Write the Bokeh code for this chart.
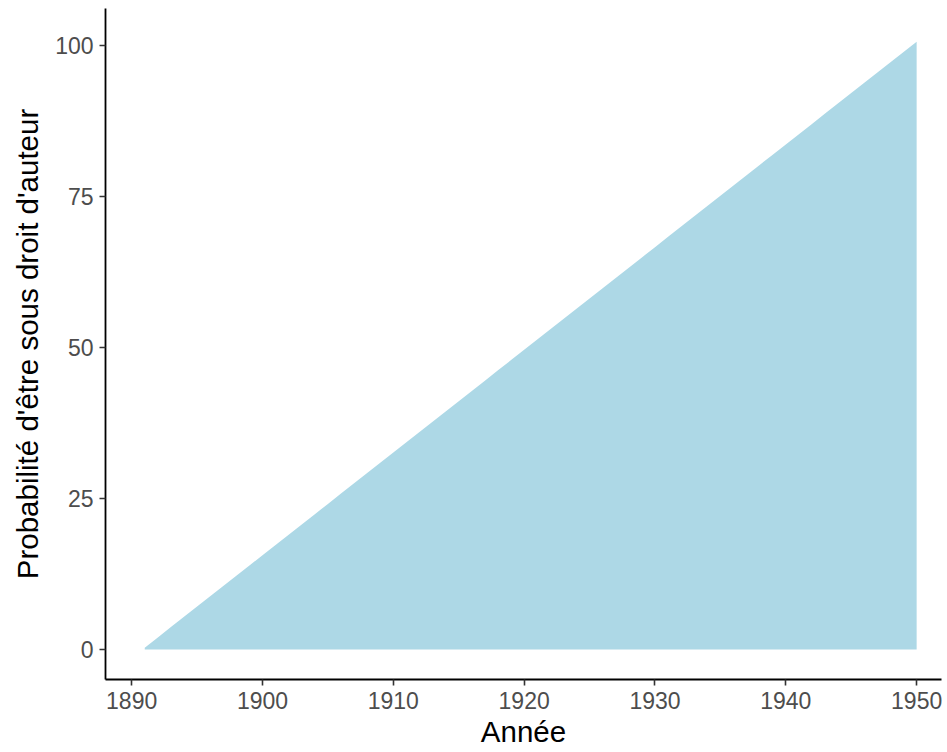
from bokeh.plotting import figure
from bokeh.models import Range1d, FixedTicker
from bokeh.embed import file_html
from bokeh.resources import INLINE

years = list(range(1891, 1951))
probabilite = [0.3, 2.0, 3.7, 5.4, 7.1, 8.8, 10.5, 12.2, 13.9, 15.6,
               17.3, 19.0, 20.7, 22.4, 24.1, 25.8, 27.5, 29.2, 30.9, 32.6,
               34.3, 36.0, 37.7, 39.4, 41.1, 42.8, 44.5, 46.2, 47.9, 49.6,
               51.3, 53.0, 54.7, 56.4, 58.1, 59.8, 61.5, 63.2, 64.9, 66.6,
               68.3, 70.0, 71.7, 73.4, 75.1, 76.8, 78.5, 80.2, 81.9, 83.6,
               85.3, 87.0, 88.7, 90.4, 92.1, 93.8, 95.5, 97.2, 98.9, 100.6]
x_ticks = [1890, 1900, 1910, 1920, 1930, 1940, 1950]
y_ticks = [0, 25, 50, 75, 100]

p = figure(width=947, height=752, output_backend="svg", toolbar_location=None,
           x_range=Range1d(1888.0, 1951.9), y_range=Range1d(-4.97, 106.1),
           min_border_left=105, min_border_top=8, min_border_bottom=73, min_border_right=6)

p.varea(x=years, y1=[0] * len(years), y2=probabilite, fill_color="#ADD8E6")

p.xgrid.visible = False
p.ygrid.visible = False
p.outline_line_color = None

p.xaxis.ticker = FixedTicker(ticks=x_ticks)
p.yaxis.ticker = FixedTicker(ticks=y_ticks)
p.xaxis.axis_label = "Année"
p.yaxis.axis_label = "Probabilité d'être sous droit d'auteur"

for ax in (p.xaxis, p.yaxis):
    ax.axis_line_color = "black"
    ax.axis_line_width = 1.8
    ax.major_tick_line_color = "#333333"
    ax.major_tick_line_width = 1.6
    ax.major_tick_out = 6
    ax.major_tick_in = 0
    ax.minor_tick_line_color = None
    ax.major_label_text_font = "Liberation Sans"
    ax.major_label_text_font_size = "23px"
    ax.major_label_text_color = "#4D4D4D"
    ax.axis_label_text_font = "Liberation Sans"
    ax.axis_label_text_font_size = "29.5px"
    ax.axis_label_text_font_style = "normal"
    ax.axis_label_text_color = "black"

p.xaxis.major_label_standoff = 6
p.yaxis.major_label_standoff = 6
p.xaxis.axis_label_standoff = 3
p.yaxis.axis_label_standoff = 8

open("out.html", "w").write(file_html(p, INLINE))
